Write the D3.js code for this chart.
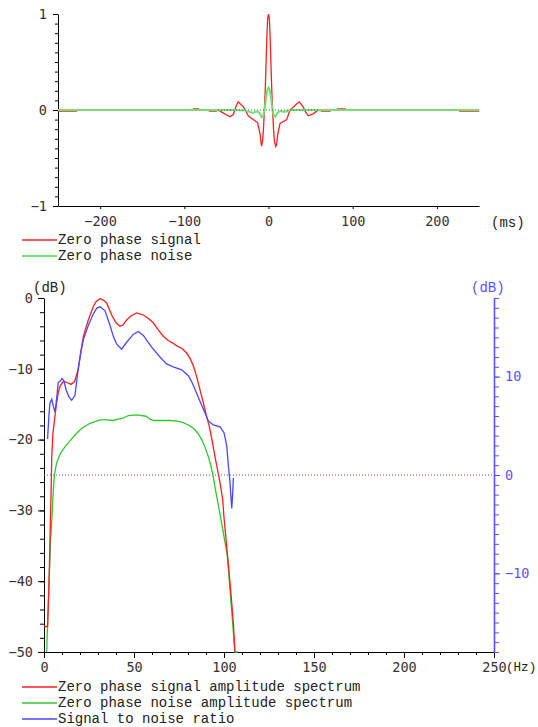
<!DOCTYPE html>
<html>
<head>
<meta charset="utf-8">
<script src="https://cdn.jsdelivr.net/npm/d3@7"></script>
<style>
  html, body { margin: 0; padding: 0; background: #fff; }
  svg { display: block; }
  .tick text { font-family: "DejaVu Sans Mono", monospace; font-size: 13.5px; fill: #333; }
  .lbl { font-family: "Liberation Mono", "Courier New", monospace; font-size: 14px; fill: #222; }
</style>
</head>
<body>
<script>
// ---------- Top chart data (time domain) ----------
const timeTicks = [-200, -100, 0, 100, 200];
const ampTicks = [-1, 0, 1];
const signalTime = [-250,-228,-227,-90,-89,-83,-82,-71,-70,-62,-60,-54,-50,-46,-42,-38,-36,-33,-30,-27,-24,-21,-18,-15,-13,-12,-10,-8.3,-7,-6,-5,-4,-3,-2,-1,0,1,2,3,4,5,6,7,8.5,9.7,11,13.7,17.7,21.6,25.6,29.5,33,36.6,41.3,44,47.3,53,59,62,63,73,74,81,82,91,92,226,227,250];
const signalVal  = [-0.012,-0.012,0,0,0.012,0.012,0,0,-0.012,-0.012,0,-0.03,-0.05,-0.07,-0.05,0.05,0.086,0.06,0.035,-0.01,-0.06,-0.08,-0.1,-0.12,-0.13,-0.17,-0.25,-0.375,-0.32,-0.2,-0.02,0.18,0.45,0.75,0.95,1.0,0.95,0.75,0.45,0.18,-0.02,-0.2,-0.32,-0.38,-0.36,-0.25,-0.14,-0.12,-0.1,0.0,0.03,0.06,0.085,0.03,-0.02,-0.06,-0.04,0,0,-0.012,-0.012,0,0,0.012,0.012,0,0,-0.012,-0.012];
const noiseTime = [-250,-40,-28,-22,-18,-15,-12,-10,-8,-6.5,-5,-4,-3,-2,-1,0,1,2,3,4,5,6.5,8,10,12,15,18,22,28,250];
const noiseVal  = [0,0,-0.005,-0.02,-0.03,-0.015,-0.02,-0.04,-0.075,-0.065,-0.02,0.05,0.12,0.18,0.22,0.235,0.22,0.18,0.12,0.05,-0.02,-0.06,-0.07,-0.04,-0.02,-0.01,-0.02,-0.01,0,0];
const topLegend = ["Zero phase signal", "Zero phase noise"];

// ---------- Bottom chart data (frequency domain) ----------
const freqTicks = [0, 50, 100, 150, 200, 250];
const dbTicks = [-50, -40, -30, -20, -10, 0];
const snrTicks = [-10, 0, 10];
const sigFreq = [0,2,2.4,3,3.4,3.9,4.3,5,6.1,7,7.9,9,10.7,12.5,15,17,19,20.5,21.9,24.6,27.4,29,31.1,33,34.8,37.6,40,42.2,44,45.9,48.5,51.5,55.2,58,60.7,63.5,66.3,69,71.8,74,76.5,79,81.1,83,84.8,86.5,88.5,90,91.8,93.5,95,96.5,97.8,99.3,100,102,103.7,105.2,106.1];
const sigDb   = [-46.4,-46.4,-43.6,-38,-33,-28,-22.4,-19,-16.7,-14.8,-13.4,-12.4,-11.8,-11.9,-12.2,-11.8,-10.1,-7.5,-5.4,-3.1,-1.2,-0.5,-0.1,-0.3,-0.7,-2.4,-3.5,-4.0,-3.8,-3.1,-2.5,-2.1,-2.4,-2.9,-3.5,-4.5,-5.4,-6.0,-6.4,-6.8,-7.1,-7.7,-8.5,-9.6,-11.1,-12.8,-14.8,-16.4,-18.1,-20.3,-22.4,-24.4,-26.1,-28.5,-31,-36.5,-41.2,-45.9,-50];
const noiseFreq = [1.5,2,3,3.7,4.5,5.2,5.8,7,9,11.7,15,18.1,21,25.6,31.1,35,38.5,41,43.5,47,51.7,56.7,59,61,66,70.4,74,77.4,80,83,85.5,87.6,89.5,91.3,92.8,94,95.2,96.3,98.7,101.9,103.3,104.8,106,107.6];
const noiseDb   = [-50,-45.9,-38.8,-34.1,-30.5,-27,-25,-23.3,-22,-21,-20,-19.1,-18.4,-17.7,-17.2,-17.2,-17.3,-17.1,-17.0,-16.6,-16.5,-16.7,-17.1,-17.3,-17.3,-17.3,-17.4,-17.6,-17.9,-18.4,-19.1,-20,-21.1,-22.4,-23.8,-25.2,-27,-28.5,-31.8,-36.5,-41.2,-45.9,-50,-50];
const snrFreq = [2,2.7,3.3,4.3,5.2,6.1,6.8,7.9,8.8,10,11,12.4,14,15.4,17.2,19,20.5,21.9,24.6,27.4,29.5,31.1,33.9,36.7,38.5,40.4,43.1,45.9,49.6,52.4,55.2,57.5,59.8,64.4,68.1,71.8,76.5,80.2,82,83.9,87.6,91.3,94,97.8,100,101.5,102.6,103.3,104.3,104.8,105.2];
const snrDb   = [3.66,6.0,7.3,7.7,7.0,6.4,7.4,9.4,9.5,9.8,9.6,8.6,7.9,7.6,8.1,10.8,12.5,13.8,15.2,16.4,17.0,17.1,16.7,15.2,14.1,13.3,12.8,13.5,14.3,14.6,14.2,13.6,13.0,12.0,11.3,11.0,10.7,10.1,9.5,8.7,7.1,5.5,5.1,4.9,4.3,3.0,0.6,-0.7,-3.4,-2.0,-0.3];
const bottomLegend = ["Zero phase signal amplitude spectrum", "Zero phase noise amplitude spectrum", "Signal to noise ratio"];

const RED = "#ff1e1e", GREEN = "#2fc82f", GREEN_TOP = "#74e074", BLUE = "#4848ff", AXBLUE = "#5555ff";

const W = 538, H = 727;
const svg = d3.select("body").append("svg").attr("width", W).attr("height", H);

function cleanAxis(g, color) {
  g.select(".domain").attr("stroke", color);
  g.selectAll(".tick line").attr("stroke", color);
}

// ================= TOP CHART =================
const xT = d3.scaleLinear().domain([-250, 250]).range([58, 479]);
const yT = d3.scaleLinear().domain([-1, 1]).range([206, 14]);

svg.append("g").attr("transform", "translate(58,0)")
  .call(d3.axisLeft(yT).tickValues(d3.range(-10, 11).map(d => d / 10)).tickSize(3).tickFormat(""))
  .call(g => { g.select(".domain").remove(); g.selectAll(".tick line").attr("stroke", "#000"); });
svg.append("g").attr("transform", "translate(58,0)")
  .call(d3.axisLeft(yT).tickValues(ampTicks).tickSize(5).tickPadding(6).tickSizeOuter(0).tickFormat(d3.format("d")))
  .call(g => { cleanAxis(g, "#000"); g.selectAll("text").text(d => d < 0 ? "\u2212" + Math.abs(d) : d); });
svg.append("g").attr("transform", "translate(0,206)")
  .call(d3.axisBottom(xT).tickValues(timeTicks).tickSize(3).tickPadding(7).tickSizeOuter(0))
  .call(g => { cleanAxis(g, "#000"); g.selectAll("text").text(d => d < 0 ? "\u2212" + Math.abs(d) : d); });

const lineT = d3.line().x(d => xT(d[0])).y(d => yT(d[1]));
svg.append("path").datum(d3.zip(signalTime, signalVal))
  .attr("d", lineT).attr("fill", "none").attr("stroke", RED).attr("stroke-width", 1.3);
svg.append("path").datum(d3.zip(noiseTime, noiseVal))
  .attr("d", lineT).attr("fill", "none").attr("stroke", GREEN_TOP).attr("stroke-width", 2);
svg.append("line").attr("x1", xT(-60)).attr("x2", xT(60)).attr("y1", yT(0)).attr("y2", yT(0))
  .attr("stroke", "#555").attr("stroke-dasharray", "1,2");

svg.append("text").attr("class", "lbl").attr("x", 491).attr("y", 222).attr("dy", "0.35em").text("(ms)");

[RED, GREEN_TOP].forEach((c, i) => {
  const y = 240 + i * 16;
  svg.append("line").attr("x1", 22).attr("x2", 57).attr("y1", y).attr("y2", y).attr("stroke", c).attr("stroke-width", i ? 2 : 1.3);
  svg.append("text").attr("class", "lbl").attr("x", 58).attr("y", y).attr("dy", "0.3em").text(topLegend[i]);
});

// ================= BOTTOM CHART =================
const xB = d3.scaleLinear().domain([0, 250]).range([44, 494]);
const yL = d3.scaleLinear().domain([-50, 0]).range([652, 298]);
const yR = d3.scaleLinear().domain([-18, 18]).range([652, 298]);

svg.append("g").attr("transform", "translate(44,0)")
  .call(d3.axisLeft(yL).tickValues(d3.range(-50, 1, 2)).tickSize(4).tickFormat(""))
  .call(g => { g.select(".domain").remove(); g.selectAll(".tick line").attr("stroke", "#000"); });
svg.append("g").attr("transform", "translate(44,0)")
  .call(d3.axisLeft(yL).tickValues(dbTicks).tickSize(6).tickPadding(5).tickSizeOuter(0))
  .call(g => { cleanAxis(g, "#000"); g.selectAll("text").text(d => d < 0 ? "\u2212" + Math.abs(d) : d); });
svg.append("g").attr("transform", "translate(0,652)")
  .call(d3.axisBottom(xB).tickValues(d3.range(0, 251, 10)).tickSize(3).tickFormat(""))
  .call(g => { g.select(".domain").remove(); g.selectAll(".tick line").attr("stroke", "#000"); });
svg.append("g").attr("transform", "translate(0,652)")
  .call(d3.axisBottom(xB).tickValues(freqTicks).tickSize(6).tickPadding(4).tickSizeOuter(0))
  .call(g => cleanAxis(g, "#000"));
svg.append("g").attr("transform", "translate(494,0)")
  .call(d3.axisRight(yR).tickValues(d3.range(-18, 19, 1)).tickSize(5).tickFormat(""))
  .call(g => { g.select(".domain").remove(); g.selectAll(".tick line").attr("stroke", AXBLUE); });
svg.append("g").attr("transform", "translate(494,0)")
  .call(d3.axisRight(yR).tickValues(snrTicks).tickSize(6).tickPadding(5).tickSizeOuter(0))
  .call(g => {
    cleanAxis(g, AXBLUE);
    g.select(".domain").attr("stroke-width", 1.6);
    g.selectAll("text").style("fill", AXBLUE).text(d => d < 0 ? "\u2212" + Math.abs(d) : d);
  });

svg.append("text").attr("class", "lbl").attr("x", 33).attr("y", 287).attr("dy", "0.35em").text("(dB)");
svg.append("text").attr("class", "lbl").attr("x", 471).attr("y", 287).attr("dy", "0.35em").style("fill", AXBLUE).text("(dB)");
svg.append("text").attr("class", "lbl").attr("x", 506).attr("y", 667).attr("dy", "0.35em").style("font-size", "12.6px").text("(Hz)");

svg.append("clipPath").attr("id", "clipB").append("rect").attr("x", 44).attr("y", 298).attr("width", 450).attr("height", 355);
const plot = svg.append("g").attr("clip-path", "url(#clipB)");

plot.append("line").attr("x1", xB(0)).attr("x2", xB(250)).attr("y1", yR(0)).attr("y2", yR(0))
  .attr("stroke", BLUE).attr("stroke-dasharray", "1,2");

const lineL = d3.line().x(d => xB(d[0])).y(d => yL(d[1]));
const lineR = d3.line().x(d => xB(d[0])).y(d => yR(d[1]));
plot.append("path").datum(d3.zip(noiseFreq, noiseDb))
  .attr("d", lineL).attr("fill", "none").attr("stroke", GREEN).attr("stroke-width", 1.3);
plot.append("path").datum(d3.zip(sigFreq, sigDb))
  .attr("d", lineL).attr("fill", "none").attr("stroke", RED).attr("stroke-width", 1.3);
plot.append("path").datum(d3.zip(snrFreq, snrDb))
  .attr("d", lineR).attr("fill", "none").attr("stroke", BLUE).attr("stroke-width", 1.3);

[RED, GREEN, BLUE].forEach((c, i) => {
  const y = 687 + i * 16;
  svg.append("line").attr("x1", 22).attr("x2", 57).attr("y1", y).attr("y2", y).attr("stroke", c).attr("stroke-width", 1.3);
  svg.append("text").attr("class", "lbl").attr("x", 58).attr("y", y).attr("dy", "0.3em").text(bottomLegend[i]);
});
</script>
</body>
</html>
